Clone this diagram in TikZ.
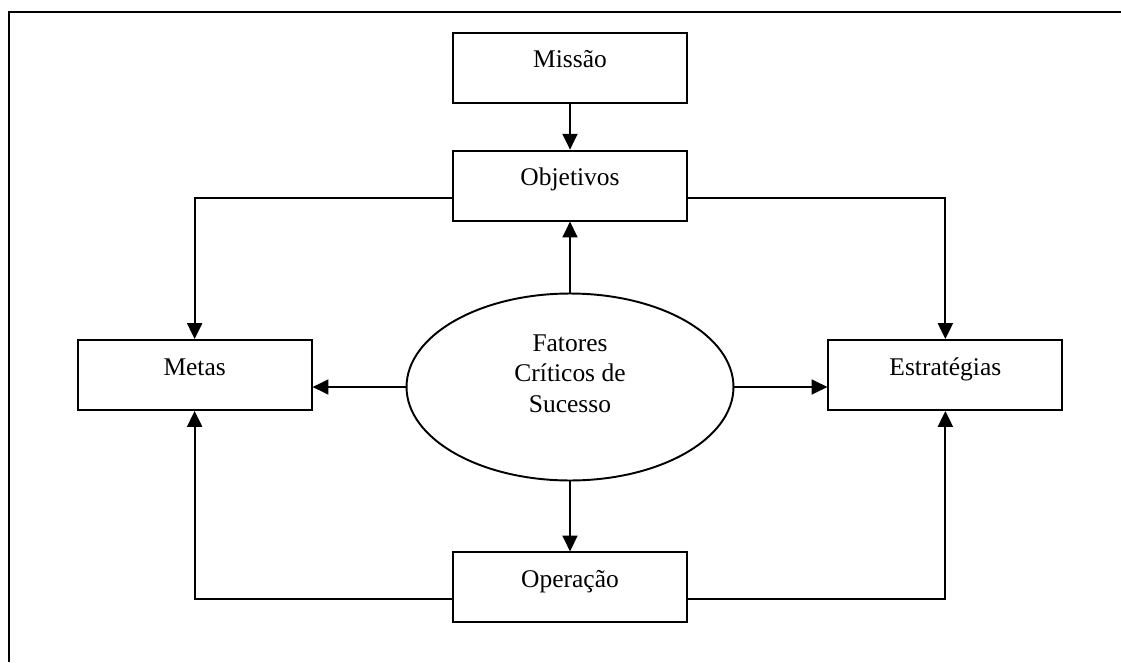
\documentclass[tikz,border=0pt]{standalone}
\usepackage{fontspec}
\setmainfont{Liberation Serif}
\usetikzlibrary{arrows.meta, positioning, shapes.geometric}

\begin{document}
\begin{tikzpicture}[x=0.02cm, y=-0.02cm, >={Triangle[length=9pt,width=8.5pt]},
    line width=1.1pt, font=\fontsize{14.5}{17.4}\selectfont]
  \tikzset{
    box/.style={
      rectangle,
      draw=black,
      minimum width=4.68cm,
      minimum height=1.4cm,
      inner sep=0pt,
      text height=0.36cm,
      text depth=0.36cm,
      text centered},
    oval/.style={
      ellipse,
      draw=black,
      minimum width=6.54cm,
      minimum height=3.74cm,
      inner sep=0pt}}

  \useasboundingbox (0,0) rectangle (1121,662);
  \draw (9,662) -- (9,12) -- (1121,12);

  \node[oval] (fcs) at (570,387)
    [label={[align=center, yshift=0.27cm]center:Fatores\\Críticos de\\Sucesso}] {};

  \node[box] (objetivos) [above=1.42cm of fcs] {Objetivos};
  \node[box] (missao) [above=0.92cm of objetivos] {Missão};
  \node[box] (operacao) [below=1.4cm of fcs] {Operação};
  \node[box] (metas) [left=1.86cm of fcs, yshift=0.24cm] {Metas};
  \node[box] (estrategias) [right=1.86cm of fcs, yshift=0.24cm] {Estratégias};

  \draw[->] (missao) -- (objetivos);
  \draw[->] (fcs) -- (objetivos);
  \draw[->] (fcs) -- (operacao);
  \draw[->] (fcs.west) -- (fcs.west -| metas.east);
  \draw[->] (fcs.east) -- (fcs.east -| estrategias.west);

  % laterais: objetivos e operacao para metas e estrategias
  \draw[->] ([yshift=-0.24cm]objetivos.west) -| (metas.north);
  \draw[->] ([yshift=-0.24cm]objetivos.east) -| (estrategias.north);
  \draw[->] ([yshift=-0.24cm]operacao.west) -| (metas.south);
  \draw[->] ([yshift=-0.24cm]operacao.east) -| (estrategias.south);

\end{tikzpicture}
\end{document}
